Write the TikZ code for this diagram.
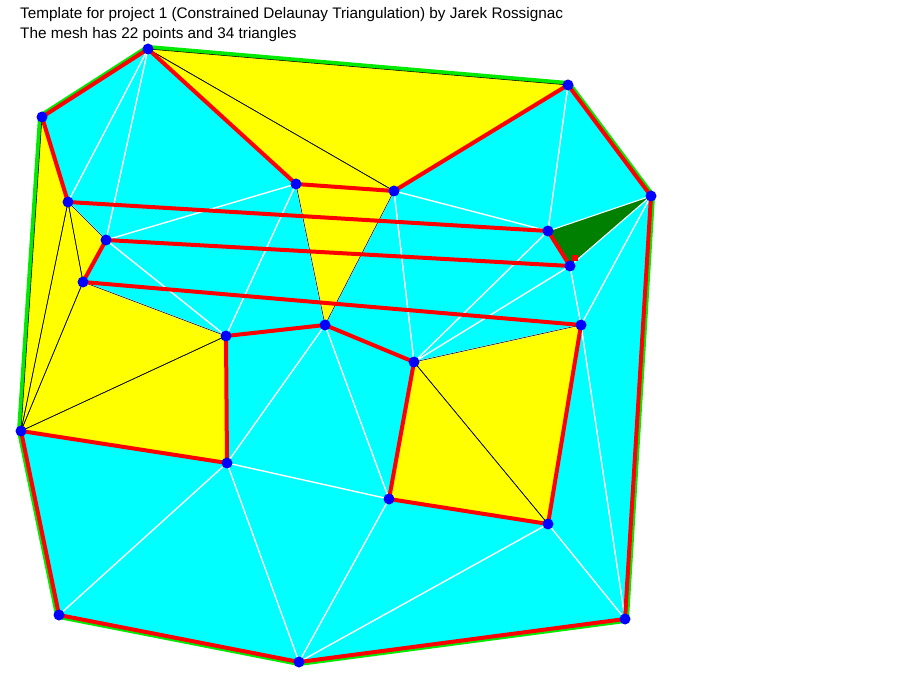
\documentclass[tikz,border=0pt]{standalone}
\usepackage{fontspec}
\setmainfont{Liberation Sans}
\definecolor{cy}{RGB}{0,255,255}
\definecolor{ye}{RGB}{255,255,0}
\definecolor{gr}{RGB}{0,235,0}
\definecolor{dg}{RGB}{0,128,0}
\definecolor{rd}{RGB}{255,0,0}
\definecolor{bl}{RGB}{0,0,255}
\tikzset{
  cyantri/.style={fill=cy},
  yellowtri/.style={fill=ye},
  hullline/.style={draw=gr,line width=8pt,line join=round},
  constraint/.style={draw=rd,line width=4pt,line cap=round},
  halo/.style={draw=white,line width=1.1pt},
  edge/.style={draw=black,line width=0.55pt},
  vert/.style={fill=bl},
  label/.style={anchor=base west,inner sep=0pt,font=\fontsize{15.3}{17}\selectfont}
}
\begin{document}
\begin{tikzpicture}[x=1pt,y=-1pt]
\useasboundingbox (0,0) rectangle (900,700);
\fill[white] (0,0) rectangle (900,700);
\coordinate (A) at (148,49);
\coordinate (B) at (42,117);
\coordinate (C) at (568,85);
\coordinate (D) at (651,196);
\coordinate (E) at (68,202);
\coordinate (F) at (296,184);
\coordinate (G) at (394,191);
\coordinate (H) at (548,231);
\coordinate (I) at (570,266);
\coordinate (J) at (106,240);
\coordinate (K) at (83,282);
\coordinate (L) at (226,336);
\coordinate (M) at (325,325);
\coordinate (N) at (414,362);
\coordinate (O) at (581,325);
\coordinate (P) at (21,431);
\coordinate (Q) at (227,463);
\coordinate (R) at (389,499);
\coordinate (S) at (548,524);
\coordinate (T) at (59,615);
\coordinate (U) at (299,662);
\coordinate (V) at (625,619);
% hull (green, outer half remains visible)
\path[hullline] (A) -- (C) -- (D) -- (V) -- (U) -- (T) -- (P) -- (B) -- cycle;
% cyan triangles
\foreach \a/\b/\c in {A/B/E,A/E/J,A/J/F,J/F/L,J/K/L,F/L/M,L/M/Q,M/Q/R,M/R/N,G/M/N,G/H/N,H/N/I,I/N/O,O/S/V,O/D/V,D/I/O,C/D/H,C/G/H,R/S/U,S/V/U,Q/R/U,Q/T/U,P/Q/T}
  {\path[cyantri] (\a) -- (\b) -- (\c) -- cycle;}
% yellow triangles
\foreach \a/\b/\c in {E/J/K,P/B/E,P/E/K,P/K/L,P/L/Q,A/F/G,A/G/C,F/G/M,N/O/S,N/S/R}
  {\path[yellowtri] (\a) -- (\b) -- (\c) -- cycle;}
% dark green triangle
\path[fill=dg] (D) -- (H) -- (I) -- cycle;
% white edges of cyan triangles
\foreach \a/\b/\c in {A/B/E,A/E/J,A/J/F,J/F/L,J/K/L,F/L/M,L/M/Q,M/Q/R,M/R/N,G/M/N,G/H/N,H/N/I,I/N/O,O/S/V,O/D/V,D/I/O,C/D/H,C/G/H,R/S/U,S/V/U,Q/R/U,Q/T/U,P/Q/T}
  {\path[halo] (\a) -- (\b) -- (\c) -- cycle;}
% black edges of yellow triangles
\foreach \a/\b/\c in {E/J/K,P/B/E,P/E/K,P/K/L,P/L/Q,A/F/G,A/G/C,F/G/M,N/O/S,N/S/R}
  {\path[edge] (\a) -- (\b) -- (\c) -- cycle;}
% constraint edges
\foreach \a/\b in {A/B,B/E,A/F,F/G,G/C,C/D,D/V,V/U,U/T,T/P,P/Q,Q/L,L/M,M/N,N/R,R/S,S/O,E/H,H/I,J/I,J/K,K/O}
  {\path[constraint] (\a) -- (\b);}
% small red marker
\fill[rd] (572,255) rectangle (578,261);
% vertices
\foreach \p in {A,B,C,D,E,F,G,H,I,J,K,L,M,N,O,P,Q,R,S,T,U,V}
  {\fill[vert] (\p) circle (5.5);}
% title text
\node[label] (t1) at (20,19) {Template for project 1 (Constrained Delaunay Triangulation) by Jarek Rossignac};
\node[label] (t2) at (20,39) {The mesh has 22 points and 34 triangles};
\end{tikzpicture}
\end{document}
